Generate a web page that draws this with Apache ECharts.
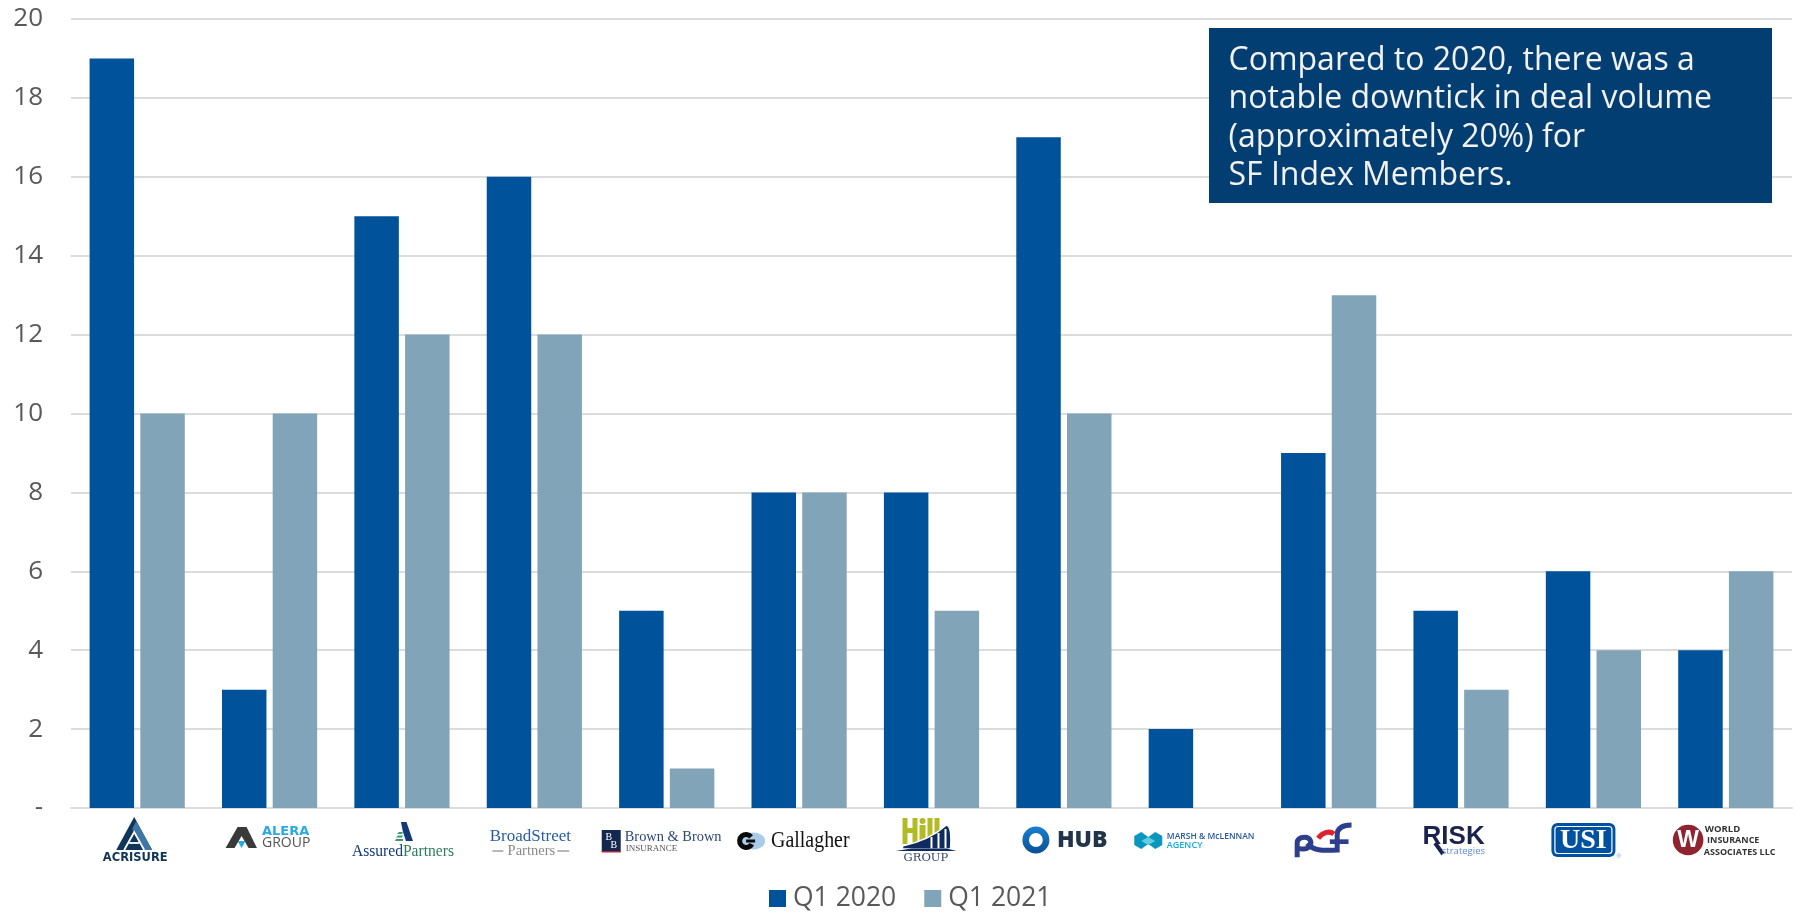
<!DOCTYPE html>
<html>
<head>
<meta charset="utf-8">
<style>html,body{margin:0;padding:0;background:#fff}#c{width:1798px;height:912px}</style>
<script src="https://cdn.jsdelivr.net/npm/echarts@6/dist/echarts.min.js"></script>
</head>
<body>
<div id="c"></div>
<script>
var categories = ['Acrisure','Alera Group','AssuredPartners','BroadStreet Partners','Brown & Brown Insurance','Gallagher','Hill Group','HUB','Marsh & McLennan Agency','PCF','Risk Strategies','USI','World Insurance Associates LLC'];
var q12020 = [19,3,15,16,5,8,8,17,2,9,5,6,4];
var q12021 = [10,10,12,12,1,8,5,10,0,13,3,4,6];
var yTickLabels = ['-','2','4','6','8','10','12','14','16','18','20'];
var calloutLines = ['Compared to 2020, there was a','notable downtick in deal volume','(approximately 20%) for','SF Index Members.'];

echarts.graphic.registerShape('logoPath', echarts.graphic.extendShape({
  shape:{d:''},
  buildPath:function(ctx,shape){
    var t = shape.d.match(/[MLCZ]|-?[\d.]+/g), i = 0;
    while(i < t.length){
      var c = t[i++];
      if(c==='M'){ctx.moveTo(+t[i],+t[i+1]);i+=2;}
      else if(c==='L'){ctx.lineTo(+t[i],+t[i+1]);i+=2;}
      else if(c==='C'){ctx.bezierCurveTo(+t[i],+t[i+1],+t[i+2],+t[i+3],+t[i+4],+t[i+5]);i+=6;}
      else if(c==='Z'){ctx.closePath();}
      else if(!isNaN(+c)){ // implicit repeat of the previous C
        ctx.bezierCurveTo(+c,+t[i],+t[i+1],+t[i+2],+t[i+3],+t[i+4]);i+=5;
      }
    }
  }
}));

var OPEN = '"Open Sans"', SERIF = '"Liberation Serif"', SANS = '"Liberation Sans"', DEJA = '"DejaVu Sans"';
function T(text,x,y,fill,font,align,sx){return {type:'text',silent:true,x:x,y:y,scaleX:sx||1,style:{text:text,x:0,y:0,fill:fill,font:font,textAlign:align||'left',textVerticalAlign:'middle'}};}
function P(pts,fill){return {type:'polygon',silent:true,shape:{points:pts},style:{fill:fill}};}
function R(x,y,w,h,fill,r){return {type:'rect',silent:true,shape:{x:x,y:y,width:w,height:h,r:r||0},style:{fill:fill}};}
function L(pts,stroke,w){return {type:'polyline',silent:true,shape:{points:pts},style:{stroke:stroke,lineWidth:w,fill:null}};}
function D(d,stroke,w,fill){return {type:'logoPath',silent:true,shape:{d:d},style:{stroke:stroke||null,lineWidth:w||0,fill:fill||null}};}

var logos = [
 [ // Acrisure
  P([[-3,9],[-21,42],[15,42]],'#0f3557'),
  P([[-1,13],[15,42],[6,42],[-5,21]],'#3f78a6'),
  L([[-13,42],[-3,24],[7,42]],'#fff',1.8),
  L([[-8,35],[2,35]],'#fff',1.8),
  T('ACRISURE',-2,50,'#0f3557','bold 11.5px '+DEJA,'center')
 ],
 [ // Alera
  P([[-44,40],[-32,19],[-23,19],[-12.6,40],[-21,40],[-28,28],[-35,40]],'#3a3a3a'),
  P([[-32,33],[-24,33],[-28,40]],'#29abe2'),
  T('ALERA',-7.6,24,'#29abe2','bold 13px '+DEJA),
  T('GROUP',-7.6,35,'#555','14px '+OPEN)
 ],
 [ // AssuredPartners
  P([[-1,14],[4.5,14],[11,33],[4,33],[1,24]],'#123a78'),
  P([[-3,24],[1,24],[0,26],[-5,26]],'#3d9a6e'),
  P([[-4,27.5],[1,27.5],[0,29.5],[-6,29.5]],'#3d9a6e'),
  P([[-6,31],[1,31],[1,33],[-7,33]],'#3d9a6e'),
  T('Assured',1,43,'#123a78','17.7px '+SERIF,'right',0.88),
  T('Partners',1,43,'#2e7d5b','17.7px '+SERIF,'left',0.88)
 ],
 [ // BroadStreet
  T('BroadStreet',-4,29,'#2a5d9f','17px '+SERIF,'center'),
  T('Partners',-3,43,'#888','14.5px '+SERIF,'center'),
  L([[-42,43],[-31,43]],'#888',1.2),
  L([[23,43],[35,43]],'#888',1.2)
 ],
 [ // Brown & Brown
  R(-65,22,19,22,'#14284f'),
  R(-65,43,19,1.5,'#b0283c'),
  T('B',-58,29,'#fff','10px '+SERIF,'center'),
  T('B',-53,37,'#fff','10px '+SERIF,'center'),
  T('Brown & Brown',-42,29,'#2b4578','15px '+SERIF,'left',0.96),
  T('INSURANCE',-41,41,'#555','9px '+SERIF)
 ],
 [ // Gallagher
  {type:'ellipse',silent:true,shape:{cx:-46,cy:33,rx:12,ry:8.5},style:{fill:'#a8cbe8'}},
  {type:'arc',silent:true,shape:{cx:-53,cy:33,r:6.5,startAngle:-0.7,endAngle:0.5,clockwise:false},style:{stroke:'#0a0a0a',lineWidth:5,fill:null}},
  R(-53,31.5,9,3,'#0a0a0a'),
  T('Gallagher',-28,33,'#111','23.7px '+SERIF,'left',0.84)
 ],
 [ // Hill Group
  R(-29,10,5,26,'#b3bb24'),R(-19,10,5,26,'#b3bb24'),R(-25,20,7,5,'#b3bb24'),
  R(-12,17,6,19,'#b3bb24'),{type:'circle',silent:true,shape:{cx:-9,cy:13,r:3},style:{fill:'#b3bb24'}},
  R(-4,10,5,26,'#b3bb24'),R(3,10,5,22,'#b3bb24'),
  D('M-29,38 C-10,34 5,26 15,17 C19,18 20,28 19,41 L-29,41 Z','#fff',1.5,'#0f2a5f'),
  R(-1,29,2,12,'#fff'),R(6,25,2,16,'#fff'),R(13,21,2,20,'#fff'),
  P([[-36,43],[-20,40.5],[15,40.5],[25,43]],'#0f2a5f'),
  T('GROUP',-5.6,50,'#33476b','11.5px "DejaVu Serif"','center')
 ],
 [ // HUB
  {type:'circle',silent:true,shape:{cx:-28,cy:32,r:10.2},style:{fill:null,lineWidth:6.6,stroke:{type:'linear',x:0,y:0,x2:0,y2:1,colorStops:[{offset:0,color:'#1a80d0'},{offset:1,color:'#0b4f96'}]}}},
  T('HUB',-7,32,'#22344a','800 23px '+OPEN)
 ],
 [ // Marsh & McLennan
  P([[-62,28],[-55,24],[-48,29],[-48,36],[-55,41],[-62,37]],'#0a96bd'),
  P([[-48,29],[-41,24],[-34,28],[-34,37],[-41,41],[-48,36]],'#0a96bd'),
  P([[-55,33],[-48,29],[-41,33],[-48,37]],'#63cde0'),
  T('MARSH & McLENNAN',-29.4,29,'#2a5a9c','600 8.5px '+OPEN),
  T('AGENCY',-29.4,37,'#10aee0','600 9px '+OPEN)
 ],
 [ // pcf
  {type:'group',x:-78.8,y:2,scaleX:1/3,scaleY:1/3,children:[
    D('M142,142 L142,100 C142,85 155,82 165,82 C182,82 188,98 178,110 C170,119 155,118 143,114','#2c3e8c',15),
    D('M172,100 C190,122 215,122 262,120 L262,75 C262,55 275,45 305,45','#2c3e8c',15),
    D('M240,95 L296,95','#2c3e8c',14),
    D('M205,85 C220,65 240,62 252,72','#e0202c',15)
  ]}
 ],
 [ // Risk Strategies
  T('RISK',-38.5,29,'#1a2350','bold 26px '+SANS),
  L([[-26,35],[-18,46]],'#1a2350',4),
  T('strategies',24,43,'#5b8ad6','9.5px '+OPEN,'right')
 ],
 [ // USI
  R(-42,15,64,34,'#0052a0',6),
  {type:'rect',silent:true,shape:{x:-38.5,y:18.5,width:57,height:27,r:3},style:{fill:null,stroke:'#fff',lineWidth:1.2}},
  T('USI',-10,32.5,'#fff','bold 28px '+SERIF,'center'),
  T('®',25.4,48,'#6a9bd0','6px '+SANS,'center')
 ],
 [ // World Insurance
  {type:'circle',silent:true,shape:{cx:-37.7,cy:32,r:15.3},style:{fill:'#8f2430'}},
  T('W',-37.7,32.5,'#fff','bold 23px '+SANS,'center'),
  T('WORLD',-21,21,'#333','700 9.5px '+OPEN),
  T('INSURANCE',-18.7,32.3,'#333','700 9px '+OPEN),
  T('ASSOCIATES LLC',-22,44.7,'#333','700 9px '+OPEN)
 ]
];

var chart = echarts.init(document.getElementById('c'), null, {renderer:'canvas'});
chart.setOption({
  animation:false,
  backgroundColor:'#fff',
  grid:{left:71,right:6,top:19,bottom:104},
  legend:{left:769,top:885,padding:0,itemWidth:17,itemHeight:17,itemGap:28,icon:'rect',
    textStyle:{fontFamily:OPEN,fontSize:26.5,color:'#595959',padding:[0,0,0,2]},
    data:['Q1 2020','Q1 2021']},
  xAxis:{type:'category',data:categories,
    axisLine:{lineStyle:{color:'#dcdcdc',width:2}},axisTick:{show:false},axisLabel:{show:false}},
  yAxis:{type:'value',min:0,max:20,interval:2,
    axisLine:{show:false},axisTick:{show:false},
    axisLabel:{margin:28,fontFamily:OPEN,fontSize:26,color:'#595959',formatter:function(v){return yTickLabels[v/2];}},
    splitLine:{lineStyle:{color:'#dcdcdc',width:2}}},
  series:[
    {name:'Q1 2020',type:'bar',data:q12020,barWidth:'33.6%',barGap:'14%',itemStyle:{color:'#00529b'}},
    {name:'Q1 2021',type:'bar',data:q12021,barWidth:'33.6%',itemStyle:{color:'#82a4b8'}}
  ]
});

var y0 = chart.convertToPixel({yAxisIndex:0},0);
var gfx = logos.map(function(children,i){
  return {type:'group',x:chart.convertToPixel({xAxisIndex:0},i),y:y0,children:children};
});
gfx.push({type:'rect',silent:true,z:10,shape:{x:1209,y:28,width:563,height:175},style:{fill:'#033e73'}});
gfx.push({type:'text',silent:true,z:11,style:{x:1228.5,y:42,text:calloutLines.join('\n'),fill:'#f2f2f2',font:'32px '+OPEN,lineHeight:38.2,textAlign:'left',textVerticalAlign:'top'}});
chart.setOption({graphic:gfx});
</script>
</body>
</html>
